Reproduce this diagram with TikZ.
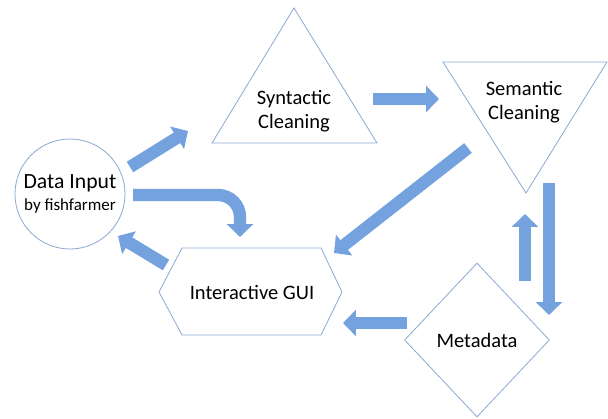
\documentclass[tikz,border=0pt]{standalone}
\usepackage{fontspec}
\setmainfont{Carlito}
\usepackage{xcolor}
\usetikzlibrary{arrows.meta,shapes.geometric}

\definecolor{shapeline}{RGB}{140,170,212}
\definecolor{arrowfill}{RGB}{116,162,222}

\begin{document}
\begin{tikzpicture}[x=0.03cm,y=-0.03cm]
			\tikzstyle{label} = [font=\fontsize{17.5pt}{21pt}\selectfont, align=center, inner sep=0pt]
			\tikzstyle{outline} = [draw=shapeline, line width=0.7pt]
			\tikzstyle{stage} = [outline, label]
			\tikzset{fat/.style = {draw=arrowfill, line width=10.5pt, -{Triangle[length=11pt,width=22pt]}}}
			
			\useasboundingbox (0,0) rectangle (608,419);
			
			% the five stages
			\node[stage, circle, minimum size=3.3cm](input) at (70,194)
			{\fontsize{18.5pt}{16pt}\selectfont Data Input\\[-2pt]\fontsize{14.5pt}{16pt}\selectfont by fishfarmer};
			
			\draw[outline] (294,8) -- (377,143) -- (212,143) -- cycle;
			\node[label](syntactic) at (294,111) {Syntactic\\Cleaning};
			
			\draw[outline] (443,62) -- (607,62) -- (526,193) -- cycle;
			\node[label](semantic) at (524,102) {Semantic\\Cleaning};
			
			\draw[outline] (159,292) -- (182,248) -- (321,248) -- (342,292) -- (321,335) -- (182,335) -- cycle;
			\node[label](gui) at (252,292) {Interactive GUI};
			
			\node[stage, diamond, minimum width=4.35cm, minimum height=4.62cm](metadata) at (477,340) {Metadata};
			
			% ends of the arrows
			\coordinate (in-syn) at (130,167);   \coordinate (syn-in) at (188,131);
			\coordinate (syn-sem) at (373,99);   \coordinate (sem-syn) at (439,99);
			\coordinate (sem-gui) at (468,148);  \coordinate (gui-sem) at (334,253);
			\coordinate (sem-meta) at (549,183); \coordinate (meta-sem) at (549,315);
			\coordinate (up-from) at (525,281);  \coordinate (up-to) at (525,214);
			\coordinate (meta-gui) at (407,323); \coordinate (gui-meta) at (343,323);
			\coordinate (gui-in) at (166,265);   \coordinate (in-gui) at (118,236);
			\coordinate (bend) at (133,195);
			
			\draw[fat](in-syn) to (syn-in);
			\draw[fat](syn-sem) to (sem-syn);
			\draw[fat](sem-gui) to (gui-sem);
			\draw[fat](sem-meta) to (meta-sem);
			\draw[fat](up-from) to (up-to);
			\draw[fat](meta-gui) to (gui-meta);
			\draw[fat](gui-in) to (in-gui);
			\draw[fat](bend) -- (218,195) arc[start angle=-90, end angle=0, radius=22] -- (240,237);
			
\end{tikzpicture}
\end{document}
